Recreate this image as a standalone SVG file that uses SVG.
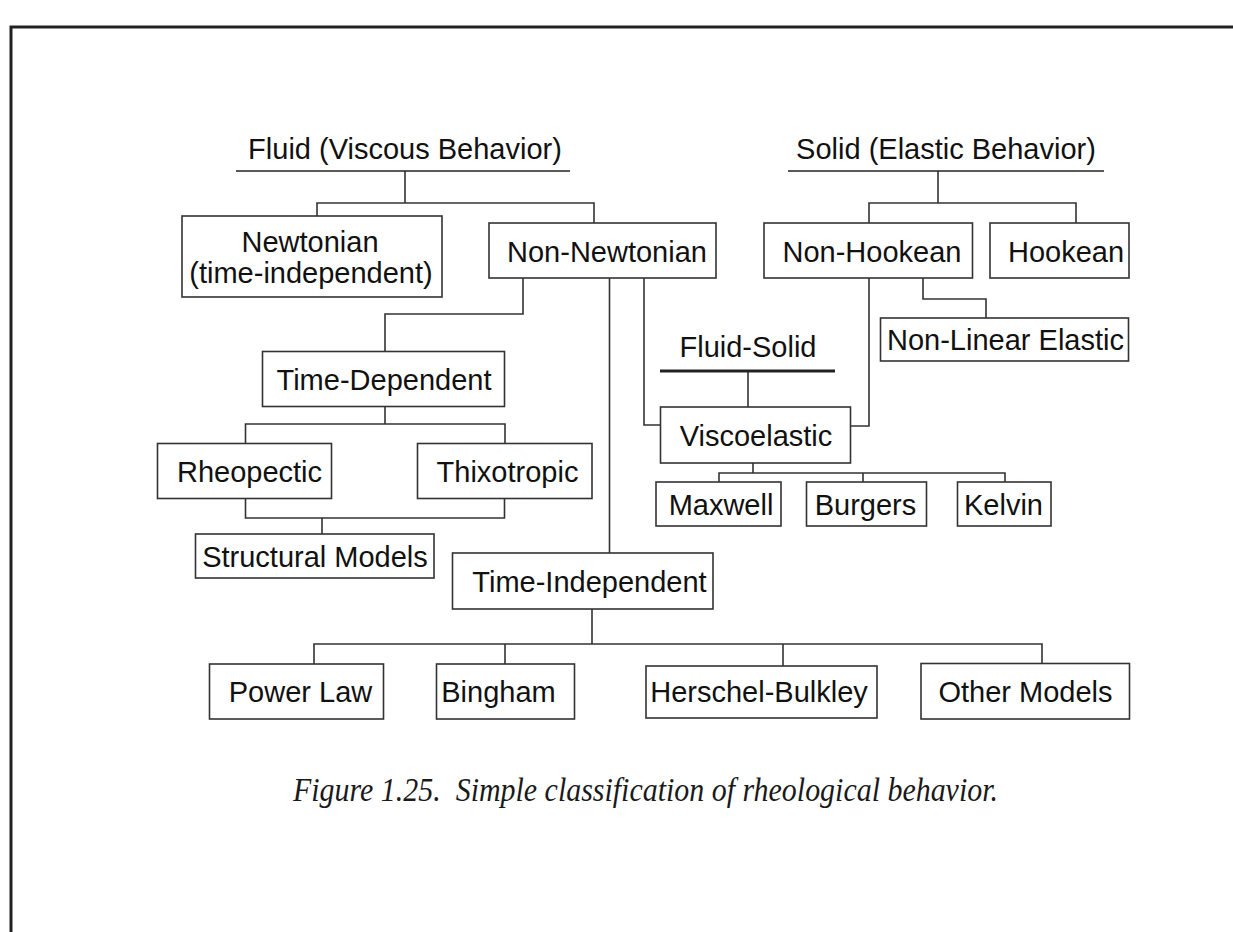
<svg xmlns="http://www.w3.org/2000/svg" width="1233" height="932" viewBox="0 0 1233 932">
  <style>
    .box { fill: #ffffff; stroke: #333333; stroke-width: 1.6; }
    .wire { fill: none; stroke: #333333; stroke-width: 1.6; }
    .rule { fill: none; stroke: #222222; stroke-width: 1.6; }
    .lbl { font-family: "Liberation Sans", Arial, sans-serif; font-size: 29px; fill: #111111; text-anchor: middle; }
    .cap { font-family: "Liberation Serif", "Times New Roman", serif; font-style: italic; font-size: 34px; fill: #1a1a1a; }
  </style>

  <rect x="0" y="0" width="1233" height="932" fill="#ffffff"/>
  <!-- page frame -->
  <path d="M11,932 V27 H1233" fill="none" stroke="#222222" stroke-width="3"/>

  <!-- connectors -->
  <g id="connectors">
    <path class="wire" d="M405,171 V203 M317,216 V203 H594 V223"/>
    <path class="wire" d="M938,171 V203 M869,223 V203 H1076 V223"/>
    <path class="wire" d="M523,278 V314 H385 V351.5"/>
    <path class="wire" d="M385,406.5 V424 M245.5,443.5 V424 H505 V443.5"/>
    <path class="wire" d="M245.5,498.5 V518 H504.5 V498.5 M322,518 V534"/>
    <path class="wire" d="M609.5,278 V553"/>
    <path class="wire" d="M644,278 V425 H660.5"/>
    <path class="wire" d="M869,278 V426 H850.5"/>
    <path class="wire" d="M923,278 V299 H986 V318"/>
    <path class="wire" d="M748,371 V407"/>
    <path class="wire" d="M753,463 V473 M719,482 V473 H1005 V482 M863,473 V482"/>
    <path class="wire" d="M592,609 V644 M314,664 V644 H1042 V663.5 M505,644 V664 M783,644 V666"/>
  </g>

  <!-- group headings -->
  <g id="fluid">
    <text class="lbl" x="405" y="159">Fluid (Viscous Behavior)</text>
    <path class="rule" d="M236,171 H570"/>
  </g>
  <g id="solid">
    <text class="lbl" x="946" y="159">Solid (Elastic Behavior)</text>
    <path class="rule" d="M788,171 H1104"/>
  </g>
  <g id="fluid-solid">
    <text class="lbl" x="748" y="357">Fluid-Solid</text>
    <path d="M660,371 H835" fill="none" stroke="#222222" stroke-width="2.8"/>
  </g>

  <!-- fluid branch -->
  <g id="newtonian">
    <rect class="box" x="182" y="216" width="260" height="81"/>
    <text class="lbl" x="310" y="252">Newtonian</text>
    <text class="lbl" x="311" y="283">(time-independent)</text>
  </g>
  <g id="non-newtonian">
    <rect class="box" x="489" y="223" width="227" height="55"/>
    <text class="lbl" x="607" y="262">Non-Newtonian</text>
  </g>
  <g id="time-dependent">
    <rect class="box" x="262.5" y="351.5" width="242" height="55"/>
    <text class="lbl" x="384" y="390">Time-Dependent</text>
  </g>
  <g id="rheopectic">
    <rect class="box" x="157.5" y="443.5" width="174" height="55"/>
    <text class="lbl" x="249.5" y="482">Rheopectic</text>
  </g>
  <g id="thixotropic">
    <rect class="box" x="417.5" y="443.5" width="174.5" height="55"/>
    <text class="lbl" x="507.5" y="482">Thixotropic</text>
  </g>
  <g id="structural-models">
    <rect class="box" x="195.5" y="534" width="238.5" height="44"/>
    <text class="lbl" x="315" y="567">Structural Models</text>
  </g>
  <g id="time-independent">
    <rect class="box" x="452.5" y="553" width="260.5" height="56"/>
    <text class="lbl" x="589.5" y="592">Time-Independent</text>
  </g>
  <g id="power-law">
    <rect class="box" x="209.5" y="664" width="174" height="55"/>
    <text class="lbl" x="300.5" y="702">Power Law</text>
  </g>
  <g id="bingham">
    <rect class="box" x="436.5" y="664" width="138" height="55"/>
    <text class="lbl" x="498.5" y="702">Bingham</text>
  </g>
  <g id="herschel-bulkley">
    <rect class="box" x="646" y="666" width="231" height="52"/>
    <text class="lbl" x="759" y="702">Herschel-Bulkley</text>
  </g>
  <g id="other-models">
    <rect class="box" x="921" y="663.5" width="208.5" height="55.5"/>
    <text class="lbl" x="1025.5" y="702">Other Models</text>
  </g>

  <!-- solid branch -->
  <g id="non-hookean">
    <rect class="box" x="764" y="223" width="208.5" height="55"/>
    <text class="lbl" x="872" y="262">Non-Hookean</text>
  </g>
  <g id="hookean">
    <rect class="box" x="990" y="223" width="139" height="55"/>
    <text class="lbl" x="1066" y="262">Hookean</text>
  </g>
  <g id="non-linear-elastic">
    <rect class="box" x="880.5" y="318" width="248" height="43"/>
    <text class="lbl" x="1005.5" y="350">Non-Linear Elastic</text>
  </g>

  <!-- viscoelastic branch -->
  <g id="viscoelastic">
    <rect class="box" x="660.5" y="407" width="190" height="56"/>
    <text class="lbl" x="756" y="446">Viscoelastic</text>
  </g>
  <g id="maxwell">
    <rect class="box" x="656" y="482" width="125" height="44"/>
    <text class="lbl" x="721" y="515">Maxwell</text>
  </g>
  <g id="burgers">
    <rect class="box" x="806.5" y="482" width="120" height="44"/>
    <text class="lbl" x="865.5" y="515">Burgers</text>
  </g>
  <g id="kelvin">
    <rect class="box" x="957.5" y="482" width="93.5" height="44"/>
    <text class="lbl" x="1003.5" y="515">Kelvin</text>
  </g>

  <!-- caption -->
  <text class="cap" x="293" y="801" textLength="705" lengthAdjust="spacingAndGlyphs">Figure 1.25.&#160; Simple classification of rheological behavior.</text>
</svg>
